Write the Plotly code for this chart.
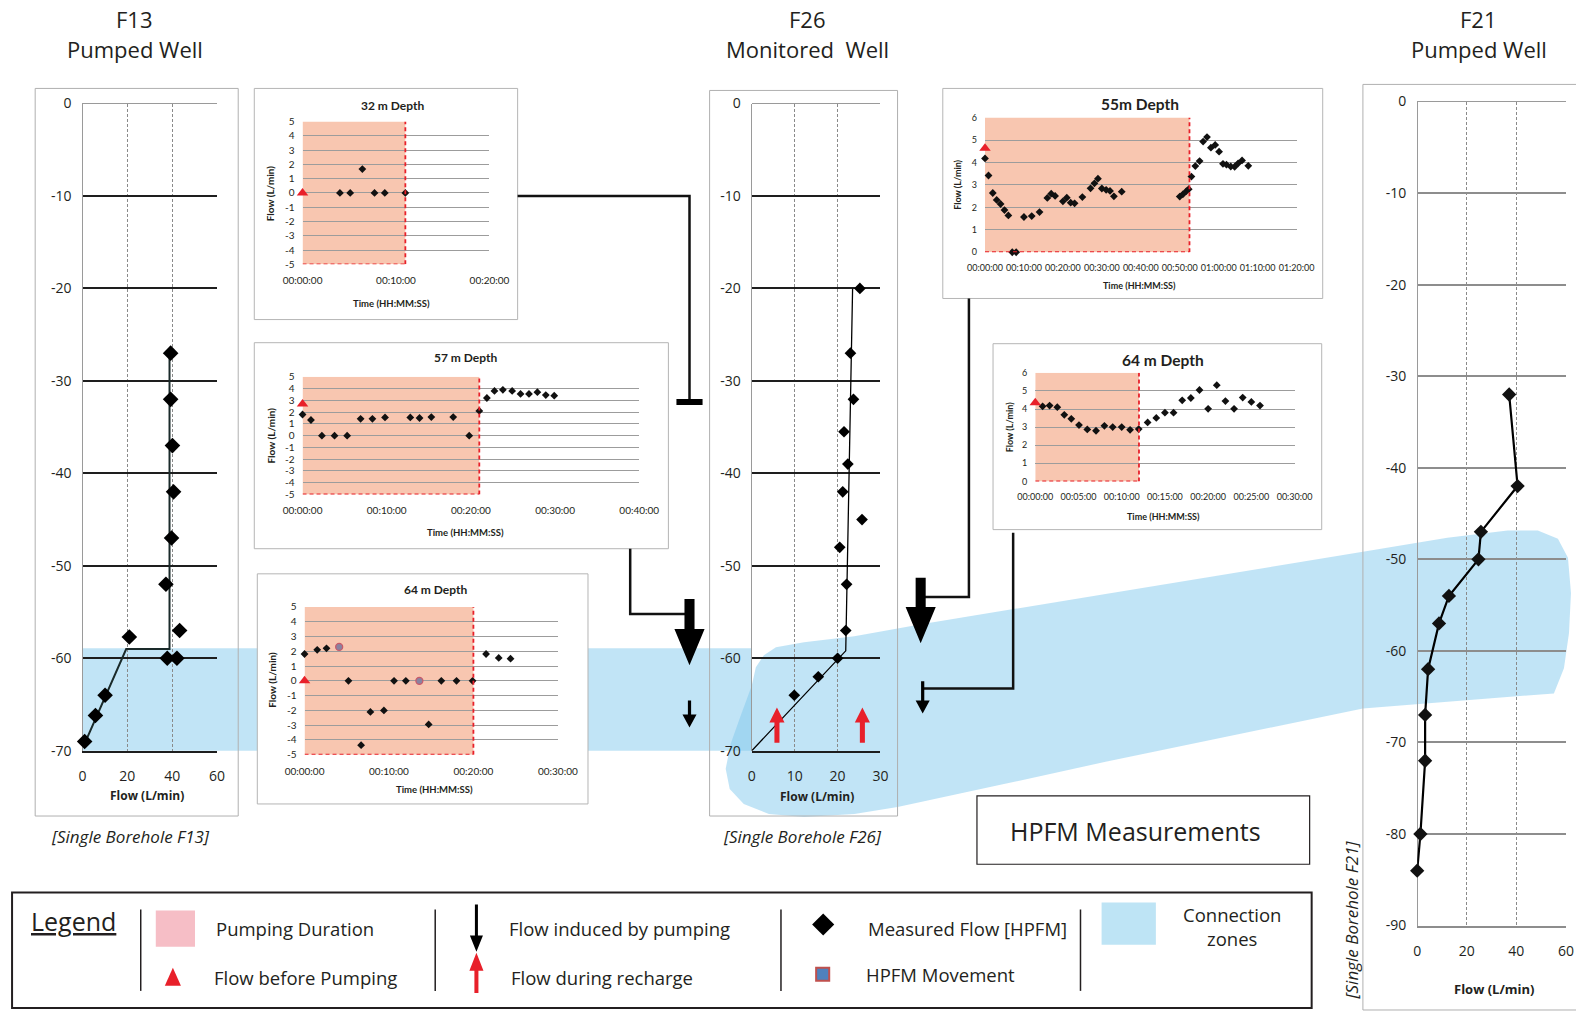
import plotly.graph_objects as go

W, H = 1568, 1008
def px(x): return x / W
def py(y): return 1 - y / H

FONT = "Open Sans"
IFONT = "Lato"
TXT = "#231f20"

# ---------------- well profiles ----------------
depth_ticks = [0, -10, -20, -30, -40, -50, -60, -70]
depth_ticks_f21 = [0, -10, -20, -30, -40, -50, -60, -70, -80, -90]
flow_ticks_60 = [0, 20, 40, 60]
flow_ticks_30 = [0, 10, 20, 30]

f13_flow = [39.3, 39.3, 40.1, 40.6, 39.7, 37.2, 43.3, 20.9, 37.8, 42.1, 10.1, 5.8, 1.0]
f13_depth = [-27, -32, -37, -42, -47, -52, -57, -57.7, -60, -60, -64, -66.2, -69]
f13_fit_flow = [0.5, 19.5, 38.8, 38.8]
f13_fit_depth = [-69.5, -59, -59, -27]

f26_flow = [25.2, 23.0, 23.7, 21.5, 22.4, 21.2, 25.7, 20.5, 22.1, 21.9, 20.0, 15.5, 9.9]
f26_depth = [-20, -27, -32, -35.5, -39, -42, -45, -48, -52, -57, -60, -62, -64]
f26_fit_flow = [0, 21.9, 23.5]
f26_fit_depth = [-70, -59.2, -20]

f21_flow = [37.1, 40.5, 25.7, 24.7, 12.8, 8.8, 4.4, 3.2, 3.2, 1.3, 0.0]
f21_depth = [-32, -42, -47, -50, -54, -57, -62, -67, -72, -80, -84]

# ---------------- HPFM time series (minutes, L/min) ----------------
q_ticks_5 = [5, 4, 3, 2, 1, 0, -1, -2, -3, -4, -5]
q_ticks_6 = [0, 1, 2, 3, 4, 5, 6]
t_ticks_20 = [0, 10, 20]
t_labels_20 = ["00:00:00", "00:10:00", "00:20:00"]
t_ticks_40 = [0, 10, 20, 30, 40]
t_labels_40 = ["00:00:00", "00:10:00", "00:20:00", "00:30:00", "00:40:00"]
t_ticks_30 = [0, 10, 20, 30]
t_labels_30 = ["00:00:00", "00:10:00", "00:20:00", "00:30:00"]
t_ticks_80 = [0, 10, 20, 30, 40, 50, 60, 70, 80]
t_labels_80 = ["00:00:00", "00:10:00", "00:20:00", "00:30:00", "00:40:00",
               "00:50:00", "01:00:00", "01:10:00", "01:20:00"]
t_ticks_30b = [0, 5, 10, 15, 20, 25, 30]
t_labels_30b = ["00:00:00", "00:05:00", "00:10:00", "00:15:00", "00:20:00", "00:25:00", "00:30:00"]

# F13 - 32 m
d32_t = [4.0, 5.1, 6.4, 7.7, 8.8, 11.0]
d32_q = [0, 0, 1.67, 0, 0, 0]
d32_before = 0.0
d32_pump_end = 11.0

# F13 - 57 m
d57_t = [0, 1.0, 2.3, 3.8, 5.3, 6.9, 8.3, 9.8, 12.8, 13.9, 15.3, 17.9, 19.8, 21.0, 21.9,
         22.8, 23.8, 24.9, 25.9, 26.9, 27.9, 28.9, 29.9]
d57_q = [1.8, 1.33, 0, 0, 0, 1.43, 1.43, 1.55, 1.55, 1.5, 1.58, 1.58, 0, 2.1, 3.2,
         3.8, 3.9, 3.8, 3.55, 3.55, 3.7, 3.45, 3.4]
d57_before = 2.7
d57_pump_end = 21.0

# F13 - 64 m
d64a_t = [0, 1.5, 2.6, 5.2, 6.7, 7.8, 9.4, 10.6, 12.0, 14.7, 16.2, 18.0, 19.9, 21.5, 23.0, 24.4]
d64a_q = [1.82, 2.1, 2.2, 0, -4.35, -2.1, -2.0, 0, 0, -2.95, 0, 0, 0, 1.82, 1.55, 1.5]
d64a_move_t = [4.1, 13.6]
d64a_move_q = [2.3, 0]
d64a_before = 0.0
d64a_pump_end = 20.0

# F26 - 55 m
d55_t = [0, 0.9, 2.0, 3.0, 4.0, 5.0, 6.0, 7.0, 8.0, 10.0, 12.0, 14.0, 16.0, 17.0, 18.0,
         20.0, 21.0, 22.0, 23.0, 25.0, 27.1, 28.1, 29.0, 30.0, 31.1, 32.1, 33.1, 35.1,
         50.0, 50.8, 51.7, 52.3, 53.0, 54.0, 55.1, 56.0, 57.0, 58.0, 59.1, 60.1, 61.1,
         62.0, 63.1, 64.1, 65.0, 66.0, 67.6]
d55_q = [4.18, 3.42, 2.64, 2.33, 2.15, 1.88, 1.64, 0, 0, 1.57, 1.61, 1.79, 2.42, 2.61, 2.51,
         2.27, 2.43, 2.21, 2.18, 2.46, 2.85, 3.07, 3.28, 2.84, 2.78, 2.73, 2.49, 2.70,
         2.48, 2.58, 2.72, 2.81, 3.37, 3.84, 4.06, 4.93, 5.13, 4.66, 4.78, 4.48, 3.94,
         3.90, 3.82, 3.81, 3.96, 4.09, 3.85]
d55_before = 4.63
d55_pump_end = 52.5

# F26 - 64 m
d64b_t = [0.85, 1.66, 2.55, 3.36, 4.17, 5.06, 6.02, 7.03, 8.0, 8.96, 10.0, 10.97, 11.97,
          13.0, 14.0, 15.0, 16.0, 17.0, 18.0, 19.0, 20.0, 21.0, 22.0, 23.0, 24.0, 25.0, 26.0]
d64b_q = [4.15, 4.19, 4.10, 3.68, 3.46, 3.11, 2.87, 2.80, 3.07, 3.0, 3.0, 2.85, 2.89,
          3.26, 3.51, 3.80, 3.80, 4.48, 4.61, 5.05, 4.01, 5.32, 4.44, 4.01, 4.63, 4.39, 4.19]
d64b_before = 4.34
d64b_pump_end = 12.0

# ---------------- helpers ----------------
fig = go.Figure()
shapes = []
ann = []
axes = {}

def names(i):
    s = "" if i == 1 else str(i)
    return "x" + s, "y" + s, "xaxis" + s, "yaxis" + s

def well_axes(i, x0, y0, x1, y1, xr, xt, yr, yt, hcol, vcol):
    xn, yn, xk, yk = names(i)
    axes[xk] = dict(domain=[px(x0), px(x1)], range=xr, anchor=yn, automargin=False,
                    tickvals=xt, ticktext=[str(v) for v in xt],
                    showgrid=True, gridcolor=vcol, griddash="3px,2px", gridwidth=1,
                    zeroline=True, zerolinecolor="#9a9a9a", zerolinewidth=1.3,
                    showline=True, linecolor=hcol, linewidth=1.6,
                    ticks="", ticklabelstandoff=12, fixedrange=True,
                    tickfont=dict(family=FONT, size=14, color=TXT))
    axes[yk] = dict(domain=[py(y1), py(y0)], range=yr, anchor=xn, automargin=False,
                    tickvals=yt, ticktext=[str(v) for v in yt],
                    showgrid=True, gridcolor=hcol, gridwidth=1.6,
                    zeroline=True, zerolinecolor="#9a9a9a", zerolinewidth=1.3,
                    showline=False, ticks="", ticklabelstandoff=10, fixedrange=True,
                    tickfont=dict(family=FONT, size=14, color=TXT))

def inset_axes(i, x0, y0, x1, y1, xr, xt, xl, yr, yt, fs, xstand, ystand):
    xn, yn, xk, yk = names(i)
    axes[xk] = dict(domain=[px(x0), px(x1)], range=xr, anchor=yn, automargin=False,
                    tickvals=xt, ticktext=xl, showgrid=False, zeroline=False,
                    showline=False, ticks="", ticklabelstandoff=xstand, fixedrange=True,
                    tickfont=dict(family=IFONT, size=fs, color=TXT))
    axes[yk] = dict(domain=[py(y1), py(y0)], range=yr, anchor=xn, automargin=False,
                    tickvals=yt, ticktext=[str(v) for v in yt],
                    showgrid=True, gridcolor="#9c9c9c", gridwidth=1, zeroline=False,
                    showline=False, ticks="", ticklabelstandoff=ystand, fixedrange=True,
                    tickfont=dict(family=IFONT, size=fs, color=TXT))

def rect(x0, y0, x1, y1, line="#b0b0b0", fill=None, width=1, layer="below"):
    shapes.append(dict(type="rect", xref="paper", yref="paper",
                       x0=px(x0), x1=px(x1), y0=py(y1), y1=py(y0),
                       line=dict(color=line, width=width) if line else dict(width=0),
                       fillcolor=fill if fill else "rgba(0,0,0,0)", layer=layer))

def poly(points, fill, layer="above", line=None, closed=True):
    d = "M " + " L ".join(f"{px(x):.5f},{py(y):.5f}" for x, y in points)
    if closed:
        d += " Z"
    shapes.append(dict(type="path", xref="paper", yref="paper", path=d,
                       fillcolor=fill if fill else "rgba(0,0,0,0)",
                       line=line if line else dict(width=0), layer=layer))

def polyline(points, color="#111", width=2.5):
    poly(points, None, line=dict(color=color, width=width), closed=False)

def arrow(xc, y0, y1, sw, hw, hl, color):
    d = 1 if y1 > y0 else -1
    yb = y1 - d * hl
    poly([(xc - sw, y0), (xc + sw, y0), (xc + sw, yb), (xc + hw, yb), (xc, y1),
          (xc - hw, yb), (xc - sw, yb)], color)

def text(x, y, s, size, bold=False, italic=False, xanchor="center", angle=0,
         family=FONT, color=TXT):
    if bold:
        s = "<b>" + s + "</b>"
    if italic:
        s = "<i>" + s + "</i>"
    ann.append(dict(x=px(x), y=py(y), xref="paper", yref="paper", text=s,
                    showarrow=False, xanchor=xanchor, yanchor="middle", textangle=angle,
                    font=dict(family=family, size=size, color=color)))

BLUE = "rgba(125,199,236,0.48)"

# ---------------- connection zones ----------------
poly([(82, 645), (748, 645), (748, 747), (82, 747)], BLUE, layer="below")
blob = [(748, 682), (752, 664), (760, 652), (772, 644), (800, 639), (850, 633),
        (918, 621), (1100, 591), (1356, 549), (1440, 535), (1500, 528), (1530, 528),
        (1550, 536), (1560, 555), (1563, 590), (1561, 630), (1556, 665), (1546, 690),
        (1356, 705), (1100, 758), (1000, 780), (893, 803), (850, 810), (800, 813),
        (765, 810), (740, 800), (726, 785), (722, 765), (727, 740), (737, 712)]
poly(blob, BLUE, layer="below")

# ---------------- panel boxes ----------------
rect(35, 88, 237, 812)
rect(706, 90, 893, 812)
rect(1356, 84, 1580, 1005)
inset_boxes = [(253, 88, 515, 318), (253, 341, 665, 546), (256, 571, 585, 800),
               (938, 88, 1316, 297), (988, 342, 1315, 527)]
for b in inset_boxes:
    rect(*b, line="#b5b5b5", fill="white")

# ---------------- well profile subplots ----------------
well_axes(1, 82, 103, 216, 747, [0, 60], flow_ticks_60, [-70, 0], depth_ticks, "#1e1e1e", "#8a8a8a")
well_axes(5, 748, 103, 876, 747, [0, 30], flow_ticks_30, [-70, 0], depth_ticks, "#1e1e1e", "#8a8a8a")
well_axes(8, 1410, 101, 1558, 921, [0, 60], flow_ticks_60, [-90, 0], depth_ticks_f21, "#8d8d8d", "#8a8a8a")

fig.add_trace(go.Scatter(x=f13_fit_flow, y=f13_fit_depth, mode="lines", xaxis="x", yaxis="y",
                         line=dict(color="#1a2a2a", width=2), hoverinfo="skip"))
fig.add_trace(go.Scatter(x=f13_flow, y=f13_depth, mode="markers", xaxis="x", yaxis="y", cliponaxis=False,
                         marker=dict(symbol="diamond", size=12, color="black")))
fig.add_trace(go.Scatter(x=f26_fit_flow, y=f26_fit_depth, mode="lines", xaxis="x5", yaxis="y5",
                         line=dict(color="black", width=1.3), hoverinfo="skip"))
fig.add_trace(go.Scatter(x=f26_flow, y=f26_depth, mode="markers", xaxis="x5", yaxis="y5", cliponaxis=False,
                         marker=dict(symbol="diamond", size=9, color="black")))
fig.add_trace(go.Scatter(x=f21_flow, y=f21_depth, mode="lines+markers", xaxis="x8", yaxis="y8", cliponaxis=False,
                         line=dict(color="black", width=2.2),
                         marker=dict(symbol="diamond", size=11, color="#111")))

# ---------------- inset subplots ----------------
PINK = "#f8c6b0"
RED = "#e8202a"
insets = [
    (2, (301, 121, 487, 263), [0, 20], t_ticks_20, t_labels_20, [-5, 5], q_ticks_5, 10,
     d32_t, d32_q, d32_before, d32_pump_end, 6),
    (3, (301, 375, 636, 492), [0, 40], t_ticks_40, t_labels_40, [-5, 5], q_ticks_5, 10,
     d57_t, d57_q, d57_before, d57_pump_end, 6),
    (4, (303, 604, 555, 751), [0, 30], t_ticks_30, t_labels_30, [-5, 5], q_ticks_5, 10,
     d64a_t, d64a_q, d64a_before, d64a_pump_end, 6),
    (6, (980, 117, 1290, 251), [0, 80], t_ticks_80, t_labels_80, [0, 6], q_ticks_6, 9,
     d55_t, d55_q, d55_before, d55_pump_end, 6),
    (7, (1030, 371, 1288, 479), [0, 30], t_ticks_30b, t_labels_30b, [0, 6], q_ticks_6, 9,
     d64b_t, d64b_q, d64b_before, d64b_pump_end, 6),
]
for (i, (x0, y0, x1, y1), xr, xt, xl, yr, yt, fs, tt, qq, qb, pe, ms) in insets:
    inset_axes(i, x0, y0, x1, y1, xr, xt, xl, yr, yt, fs, 9, 7)
    xn, yn, _, _ = names(i)
    shapes.append(dict(type="rect", xref=xn, yref=yn, x0=0, x1=pe, y0=yr[0], y1=yr[1],
                       fillcolor=PINK, line=dict(width=0), layer="below"))
    shapes.append(dict(type="line", xref=xn, yref=yn, x0=pe, x1=pe, y0=yr[0], y1=yr[1],
                       line=dict(color=RED, width=1.8, dash="4px,3px"), layer="above"))
    shapes.append(dict(type="line", xref=xn, yref=yn, x0=0, x1=pe, y0=yr[0], y1=yr[0],
                       line=dict(color=RED, width=1.8, dash="4px,3px"), layer="above"))
    fig.add_trace(go.Scatter(x=tt, y=qq, mode="markers", xaxis=xn, yaxis=yn, cliponaxis=False,
                             marker=dict(symbol="diamond", size=ms, color="#111")))
    fig.add_trace(go.Scatter(x=[0], y=[qb], mode="markers", xaxis=xn, yaxis=yn, cliponaxis=False,
                             marker=dict(symbol="triangle-up", size=10, color=RED)))

fig.add_trace(go.Scatter(x=d64a_move_t, y=d64a_move_q, mode="markers", xaxis="x4", yaxis="y4",
                         cliponaxis=False,
                         marker=dict(symbol="circle", size=7, color="#8a82a0",
                                     line=dict(color="#c85a6a", width=1.3))))

# inset titles / axis titles
inset_text = [
    ("32 m Depth", 391, 105, 12, 269, 192, 10, 390, 302, 9.5),
    ("57 m Depth", 463, 356, 12, 270, 433, 10, 463, 530, 9.5),
    ("64 m Depth", 433, 587, 12, 271, 676, 10, 432, 786, 9.5),
    ("55m Depth", 1134, 103, 15.5, 953, 184, 9, 1134, 284, 9),
    ("64 m Depth", 1157, 358, 15.5, 1004, 425, 9, 1158, 514, 9),
]
for (t, tx, ty, ts, yx, yy, ys, xx, xy, xs) in inset_text:
    text(tx, ty, t, ts, bold=True, family=IFONT)
    text(yx, yy, "Flow (L/min)", ys, bold=True, angle=-90, family=IFONT)
    text(xx, xy, "Time (HH:MM:SS)", xs, bold=True, family=IFONT)

# well titles and captions
text(134, 19, "F13", 22)
text(134, 49, "Pumped Well", 22)
text(803, 19, "F26", 22)
text(803, 49, "Monitored  Well", 22)
text(1471, 19, "F21", 22)
text(1471, 49, "Pumped Well", 22)
text(146, 792, "Flow (L/min)", 12, bold=True)
text(813, 793, "Flow (L/min)", 12, bold=True)
text(1486, 984, "Flow (L/min)", 13, bold=True)
text(130, 832, "[Single Borehole F13]", 17, italic=True)
text(798, 832, "[Single Borehole F26]", 17, italic=True)
text(1345, 915, "[Single Borehole F21]", 17, italic=True, angle=-90)

# connectors and flow arrows
polyline([(515, 195), (686, 195), (686, 400)])
rect(673, 397, 699, 403, line=None, fill="black", layer="above")
polyline([(627, 546), (627, 611), (686, 611)])
arrow(686, 596, 662, 5, 15, 36, "black")
arrow(686, 697, 724, 1.6, 7, 13, "black")
polyline([(964, 297), (964, 594), (918, 594)])
arrow(916, 575, 640, 5, 15, 36, "black")
polyline([(1008, 530), (1008, 685), (918, 685)])
arrow(918, 678, 710, 1.6, 7, 13, "black")
arrow(773, 739, 704, 2.5, 7.5, 15, RED)
arrow(858, 739, 704, 2.5, 7.5, 15, RED)

# HPFM box
rect(972, 792, 1303, 860, line="#231f20", width=1.2, layer="above")
text(1130, 827, "HPFM Measurements", 25)

# legend
LS = 18.5
rect(12, 888, 1305, 1003, line="#231f20", width=2, layer="above")
text(73, 916, "<u>Legend</u>", 25)
for xs in (140, 433, 777, 1075):
    polyline([(xs, 905), (xs, 986)], color="#231f20", width=1.5)
rect(155, 906, 194, 942, line=None, fill="#f6bec6", layer="above")
text(213, 924, "Pumping Duration", LS, xanchor="left")
poly([(164, 981), (180, 981), (172, 963)], RED)
text(211, 973, "Flow before Pumping", LS, xanchor="left")
arrow(474, 900, 947, 1.5, 6.5, 16, "black")
text(504, 924, "Flow induced by pumping", LS, xanchor="left")
arrow(474, 988, 948, 2, 7, 18, RED)
text(506, 973, "Flow during recharge", LS, xanchor="left")
poly([(819, 909), (830, 920), (819, 931), (808, 920)], "black")
text(862, 924, "Measured Flow [HPFM]", LS, xanchor="left")
rect(812, 963, 825, 976, line="#c0504d", fill="#4f81bd", width=2, layer="above")
text(860, 970, "HPFM Movement", LS, xanchor="left")
rect(1096, 898, 1150, 940, line=None, fill="#bee4f5", layer="above")
text(1226, 910, "Connection", LS)
text(1226, 934, "zones", LS)

fig.update_layout(width=1576, height=1013, margin=dict(l=0, r=0, t=0, b=0, pad=0),
                  paper_bgcolor="white", plot_bgcolor="rgba(0,0,0,0)",
                  showlegend=False, shapes=shapes, annotations=ann, **axes)

fig.write_html("out.html", post_script="document.body.style.margin='0';",
               config={"displayModeBar": False})
